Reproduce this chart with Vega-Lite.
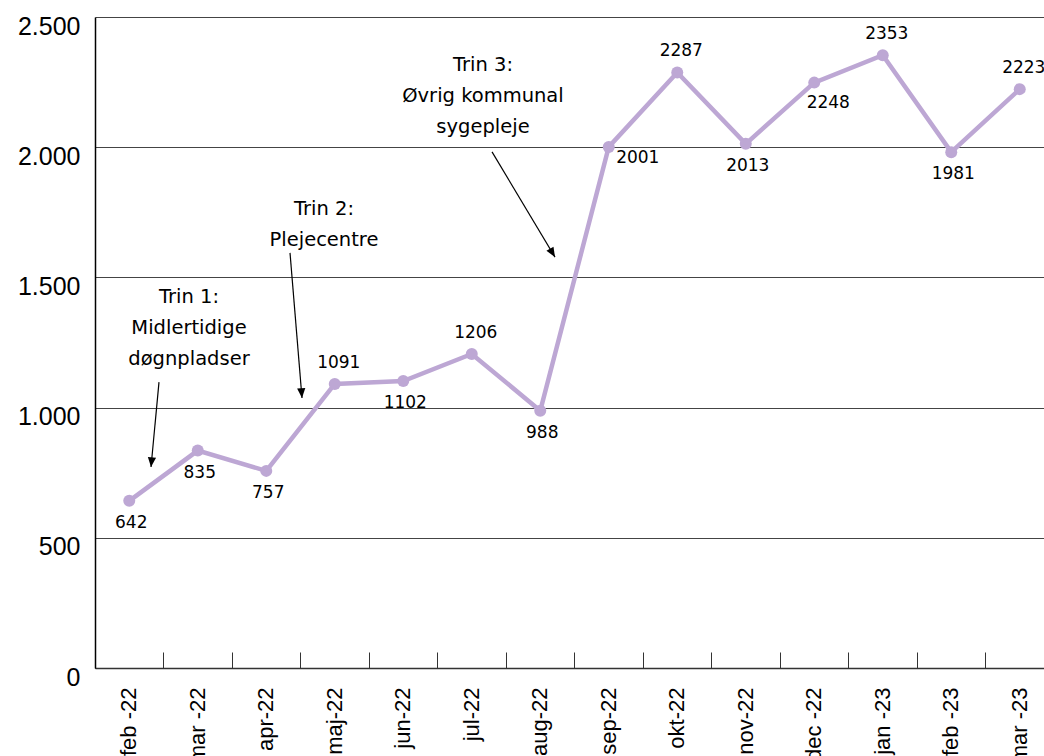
{
  "$schema": "https://vega.github.io/schema/vega-lite/v6.json",
  "width": 959,
  "height": 651,
  "autosize": {"type": "none"},
  "padding": {"left": 95, "top": 17, "right": 0, "bottom": 88},
  "background": "white",
  "config": {"view": {"stroke": null}},
  "datasets": {
    "sales": [
      {"month": "feb -22", "value": 642},
      {"month": "mar -22", "value": 835},
      {"month": "apr-22", "value": 757},
      {"month": "maj-22", "value": 1091},
      {"month": "jun-22", "value": 1102},
      {"month": "jul-22", "value": 1206},
      {"month": "aug-22", "value": 988},
      {"month": "sep-22", "value": 2001},
      {"month": "okt-22", "value": 2287},
      {"month": "nov-22", "value": 2013},
      {"month": "dec -22", "value": 2248},
      {"month": "jan -23", "value": 2353},
      {"month": "feb -23", "value": 1981},
      {"month": "mar -23", "value": 2223}
    ],
    "notes": [
      {"note": "Trin 1:\nMidlertidige\ndøgnpladser", "x": 1.372, "y": 1460},
      {"note": "Trin 2:\nPlejecentre", "x": 3.343, "y": 1797},
      {"note": "Trin 3:\nØvrig kommunal\nsygepleje", "x": 5.664, "y": 2350}
    ],
    "arrows": [
      {"id": 1, "x": 0.934, "y": 1098, "x2": 0.818, "y2": 772},
      {"id": 2, "x": 2.847, "y": 1594, "x2": 3.022, "y2": 1037},
      {"id": 3, "x": 5.796, "y": 1982, "x2": 6.715, "y2": 1578}
    ]
  },
  "layer": [
    {
      "data": {"name": "sales"},
      "encoding": {
        "x": {
          "field": "month",
          "type": "ordinal",
          "sort": null,
          "scale": {"type": "band", "paddingInner": 0, "paddingOuter": 0},
          "axis": {
            "title": null,
            "bandPosition": 0,
            "labelAngle": -90,
            "labelFont": "Liberation Sans",
            "labelFontSize": 22,
            "labelColor": "black",
            "labelPadding": 35,
            "tickSize": -16,
            "tickColor": "#333",
            "tickWidth": 1,
            "domainColor": "#333",
            "domainWidth": 1.5,
            "grid": false
          }
        },
        "y": {
          "field": "value",
          "type": "quantitative",
          "scale": {"domain": [0, 2500], "nice": false},
          "axis": {
            "title": null,
            "values": [0, 500, 1000, 1500, 2000, 2500],
            "labelExpr": "replace(format(datum.value, ','), ',', '.')",
            "labelFont": "Liberation Sans",
            "labelFontSize": 25,
            "labelColor": "black",
            "labelPadding": 15,
            "labelOffset": 9,
            "labelFlush": false,
            "ticks": false,
            "domainColor": "black",
            "domainWidth": 1.5,
            "grid": true,
            "gridColor": "#444",
            "gridWidth": 1
          }
        }
      },
      "layer": [
        {"mark": {"type": "line", "color": "#bda7d4", "strokeWidth": 4.5}},
        {"mark": {"type": "point", "shape": "circle", "filled": true, "opacity": 1, "color": "#bda7d4", "size": 144}},
        {
          "transform": [{"filter": {"field": "value", "oneOf": [1091, 1206, 2287, 2353, 2223]}}],
          "mark": {"type": "text", "font": "DejaVu Sans", "fontSize": 17, "color": "black", "dy": -21, "dx": 4},
          "encoding": {"text": {"field": "value", "type": "quantitative", "format": "d"}}
        },
        {
          "transform": [{"filter": {"field": "value", "oneOf": [642, 835, 757, 1102, 988, 2013, 1981]}}],
          "mark": {"type": "text", "font": "DejaVu Sans", "fontSize": 17, "color": "black", "dy": 22, "dx": 2},
          "encoding": {"text": {"field": "value", "type": "quantitative", "format": "d"}}
        },
        {
          "transform": [{"filter": {"field": "value", "equal": 2001}}],
          "mark": {"type": "text", "font": "DejaVu Sans", "fontSize": 17, "color": "black", "dy": 11, "dx": 29},
          "encoding": {"text": {"field": "value", "type": "quantitative", "format": "d"}}
        },
        {
          "transform": [{"filter": {"field": "value", "equal": 2248}}],
          "mark": {"type": "text", "font": "DejaVu Sans", "fontSize": 17, "color": "black", "dy": 20, "dx": 14},
          "encoding": {"text": {"field": "value", "type": "quantitative", "format": "d"}}
        }
      ]
    },
    {
      "layer": [
        {
          "data": {"name": "notes"},
          "mark": {"type": "text", "font": "DejaVu Sans", "fontSize": 19.5, "color": "black", "align": "center", "baseline": "top", "lineBreak": "\n", "lineHeight": 31},
          "encoding": {
            "x": {"field": "x", "type": "quantitative", "scale": {"domain": [0, 14], "nice": false, "zero": false}, "axis": null},
            "y": {"field": "y", "type": "quantitative"},
            "text": {"field": "note", "type": "nominal"}
          }
        },
        {
          "data": {"name": "arrows"},
          "mark": {"type": "rule", "color": "black", "strokeWidth": 1.2},
          "encoding": {
            "x": {"field": "x", "type": "quantitative", "scale": {"domain": [0, 14], "nice": false, "zero": false}, "axis": null},
            "y": {"field": "y", "type": "quantitative"},
            "x2": {"field": "x2"},
            "y2": {"field": "y2"}
          }
        },
        {
          "data": {"name": "arrows"},
          "transform": [{"filter": "datum.id == 1"}],
          "mark": {"type": "point", "shape": "M0,0L-1.1,-2.6L1.1,-2.6Z", "filled": true, "opacity": 1, "color": "black", "size": 56, "angle": 5.4},
          "encoding": {
            "x": {"field": "x2", "type": "quantitative", "scale": {"domain": [0, 14], "nice": false, "zero": false}, "axis": null},
            "y": {"field": "y2", "type": "quantitative"}
          }
        },
        {
          "data": {"name": "arrows"},
          "transform": [{"filter": "datum.id == 2"}],
          "mark": {"type": "point", "shape": "M0,0L-1.1,-2.6L1.1,-2.6Z", "filled": true, "opacity": 1, "color": "black", "size": 56, "angle": -4.7},
          "encoding": {
            "x": {"field": "x2", "type": "quantitative", "scale": {"domain": [0, 14], "nice": false, "zero": false}, "axis": null},
            "y": {"field": "y2", "type": "quantitative"}
          }
        },
        {
          "data": {"name": "arrows"},
          "transform": [{"filter": "datum.id == 3"}],
          "mark": {"type": "point", "shape": "M0,0L-1.1,-2.6L1.1,-2.6Z", "filled": true, "opacity": 1, "color": "black", "size": 56, "angle": -31},
          "encoding": {
            "x": {"field": "x2", "type": "quantitative", "scale": {"domain": [0, 14], "nice": false, "zero": false}, "axis": null},
            "y": {"field": "y2", "type": "quantitative"}
          }
        }
      ]
    }
  ],
  "resolve": {"scale": {"x": "independent"}}
}
